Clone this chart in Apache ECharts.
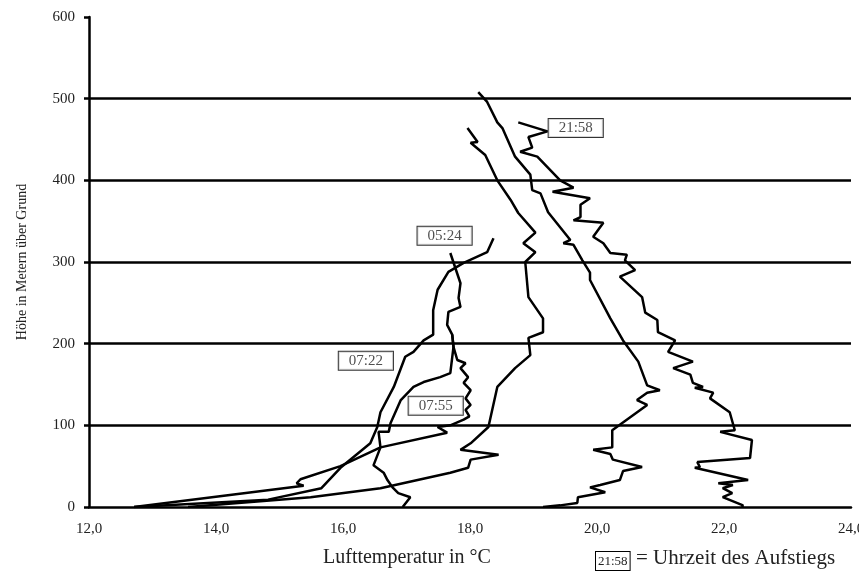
<!DOCTYPE html>
<html>
<head>
<meta charset="utf-8">
<script src="https://cdn.jsdelivr.net/npm/echarts@6/dist/echarts.min.js"></script>
<style>
  html, body { margin: 0; padding: 0; background: #fff; }
  #main { width: 859px; height: 575px; }
</style>
</head>
<body>
<div id="main"></div>
<script>
// Aufstieg 21:58
var t2158 = [18.76, 19.22, 18.92, 18.98, 18.79, 19.06, 19.42, 19.63, 19.30, 19.89, 19.74, 19.74, 19.63, 20.10, 19.94, 20.10, 20.21, 20.47, 20.44, 20.60, 20.36, 20.71, 20.76, 20.95, 20.96, 21.23, 21.12, 21.51, 21.20, 21.47, 21.51, 21.67, 21.54, 21.83, 21.78, 22.09, 22.17, 21.94, 22.44, 22.41, 21.58, 21.62, 21.54, 22.38, 21.91, 22.14, 21.98, 22.13, 21.98, 22.30, 22.28];
var h2158 = [471, 460, 453, 440, 435, 429, 400, 391, 386, 378, 370, 355, 351, 348, 331, 323, 311, 309, 302, 290, 282, 257, 238, 229, 214, 204, 190, 178, 170, 162, 152, 147, 146, 140, 133, 116, 94, 92, 82, 60, 55, 49, 48, 33, 29, 27, 23, 17, 12, 2, 0];

// zweites Profil von rechts
var tB = [18.13, 18.27, 18.43, 18.51, 18.71, 18.95, 18.98, 19.11, 19.23, 19.58, 19.47, 19.63, 19.77, 19.89, 19.89, 20.21, 20.41, 20.65, 20.79, 20.99, 20.79, 20.63, 20.79, 20.24, 20.24, 19.94, 20.21, 20.25, 20.71, 20.41, 20.36, 20.05, 19.89, 20.13, 19.70, 19.69, 19.42, 19.15];
var hB = [508, 496, 471, 464, 429, 407, 388, 384, 361, 327, 323, 321, 302, 287, 278, 231, 204, 178, 149, 143, 140, 131, 125, 94, 73, 70, 65, 58, 49, 44, 33, 27, 24, 18, 12, 5, 2, 0];

// drittes Profil
var tC = [17.96, 18.12, 18.01, 18.24, 18.43, 18.64, 18.76, 19.03, 18.84, 19.03, 18.87, 18.92, 19.15, 19.15, 18.92, 18.95, 18.71, 18.43, 18.29, 18.01, 17.85, 18.45, 18.01, 17.97, 17.69, 16.59, 15.49, 13.56];
var hC = [464, 447, 446, 431, 400, 376, 360, 336, 323, 312, 300, 257, 231, 214, 207, 186, 170, 147, 98, 78, 70, 64, 58, 48, 42, 23, 12, 0];

// Aufstieg 05:24
var t0524 = [18.37, 18.27, 17.90, 17.66, 17.49, 17.42, 17.42, 17.27, 17.11, 16.98, 16.80, 16.59, 16.54, 16.43, 15.96, 15.66, 14.82, 12.71];
var h0524 = [329, 312, 299, 288, 266, 241, 211, 204, 190, 184, 147, 116, 98, 78, 48, 23, 9, 0];

// Aufstieg 07:22
var t0722 = [17.69, 17.85, 17.82, 17.85, 17.66, 17.64, 17.72, 17.74, 17.69, 17.53, 17.27, 17.11, 16.91, 16.75, 16.72, 16.56, 16.59, 16.48, 16.64, 16.70, 16.78, 16.87, 17.06, 16.94];
var h0722 = [311, 274, 256, 245, 239, 223, 211, 196, 164, 159, 153, 147, 131, 103, 92, 92, 73, 51, 42, 33, 24, 17, 12, 0];

// Aufstieg 07:55
var t0755 = [17.72, 17.74, 17.80, 17.93, 17.85, 17.97, 17.90, 18.01, 17.93, 18.01, 17.93, 17.99, 17.90, 17.69, 17.49, 17.64, 16.59, 15.96, 15.33, 15.27, 15.38, 12.71];
var h0755 = [211, 196, 180, 176, 170, 159, 152, 143, 133, 125, 119, 111, 107, 100, 98, 91, 73, 50, 34, 29, 26, 0];

// Beschriftungen der Aufstiege
var labelNames = ['21:58', '05:24', '07:22', '07:55'];
var labelT = [19.665, 17.60, 16.36, 17.46];
var labelH = [464, 332, 179, 124];

var yTicks = [0, 100, 200, 300, 400, 500, 600];

function pairs(t, h){
	var arr = [];
	for(var i = 0; i < t.length; i++){
		arr.push([t[i], h[i]]);
	}
	return arr;
}

var fontSerif = '"Liberation Serif", "DejaVu Serif", serif';

var profiles = [
	{name: '21:58', t: t2158, h: h2158},
	{name: 'B', t: tB, h: hB},
	{name: 'C', t: tC, h: hC},
	{name: '05:24', t: t0524, h: h0524},
	{name: '07:22', t: t0722, h: h0722},
	{name: '07:55', t: t0755, h: h0755}
];

var seriesList = [];
for(var i = 0; i < profiles.length; i++){
	seriesList.push({
		name: profiles[i].name,
		type: 'line',
		data: pairs(profiles[i].t, profiles[i].h),
		symbol: 'none',
		smooth: false,
		lineStyle: {color: '#000', width: 2.5},
		z: 3
	});
}

var labelData = [];
for(var j = 0; j < labelNames.length; j++){
	labelData.push({name: labelNames[j], value: [labelT[j], labelH[j]]});
}
seriesList.push({
	name: 'labels',
	type: 'scatter',
	data: labelData,
	symbolSize: 1,
	itemStyle: {color: 'rgba(0,0,0,0)'},
	z: 5,
	label: {
		show: true,
		position: 'inside',
		formatter: '{b}',
		fontFamily: fontSerif,
		fontSize: 15,
		color: '#222',
		backgroundColor: '#fff',
		borderColor: '#000',
		borderWidth: 1,
		padding: [2, 10, 1, 10]
	}
});

var myChart = echarts.init(document.getElementById('main'));
var option = {
	backgroundColor: '#fff',
	animation: false,
	grid: {left: 89, right: 8, top: 17, bottom: 68, containLabel: false, outerBoundsMode: 'none'},
	xAxis: {
		type: 'value',
		min: 12,
		max: 24,
		interval: 2,
		axisLine: {show: true, onZero: false, lineStyle: {color: '#000', width: 2.5}},
		axisTick: {show: false},
		splitLine: {show: false},
		axisLabel: {
			margin: 15,
			fontFamily: fontSerif,
			fontSize: 15,
			color: '#222',
			hideOverlap: false,
			formatter: function(v){ return v.toFixed(1).replace('.', ','); }
		}
	},
	yAxis: {
		type: 'value',
		min: yTicks[0],
		max: yTicks[yTicks.length - 1],
		interval: 100,
		name: 'Höhe in Metern über Grund',
		nameLocation: 'middle',
		nameGap: 60,
		nameTextStyle: {fontFamily: fontSerif, fontSize: 14, color: '#222'},
		axisLine: {show: true, lineStyle: {color: '#000', width: 2.5}},
		axisTick: {show: true, length: 5, lineStyle: {color: '#000', width: 2.5}},
		splitLine: {show: true, showMinLine: false, showMaxLine: false, lineStyle: {color: '#000', width: 2.5}},
		axisLabel: {
			margin: 14,
			fontFamily: fontSerif,
			fontSize: 15,
			color: '#222'
		}
	},
	graphic: [
		{
			type: 'text',
			left: 323,
			top: 548,
			style: {text: 'Lufttemperatur in °C', font: '20px ' + fontSerif, fill: '#222'}
		},
		{
			type: 'text',
			left: 595,
			top: 551,
			style: {
				text: '21:58',
				font: '13px ' + fontSerif,
				fill: '#222',
				backgroundColor: '#fff',
				borderColor: '#000',
				borderWidth: 1,
				padding: [3, 2, 2, 2]
			}
		},
		{
			type: 'text',
			left: 636,
			top: 548,
			style: {text: '= Uhrzeit des Aufstiegs', font: '21px ' + fontSerif, fill: '#222'}
		}
	],
	series: seriesList
};
myChart.setOption(option);
</script>
</body>
</html>
